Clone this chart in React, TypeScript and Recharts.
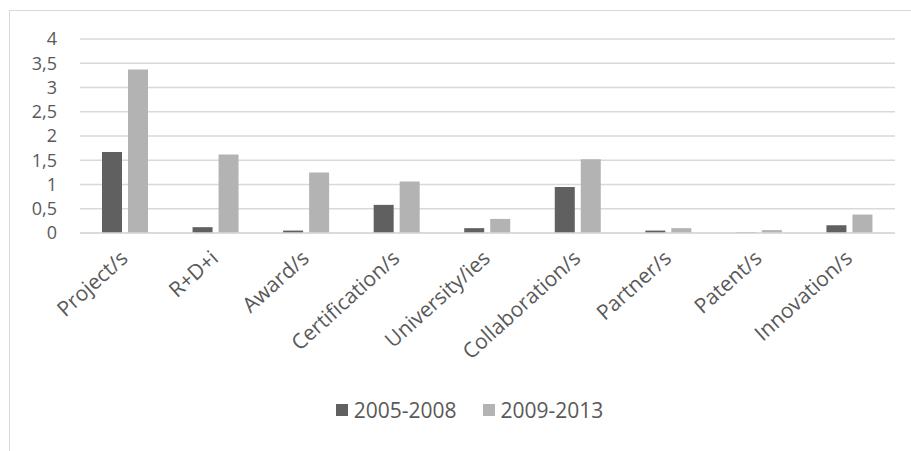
import React from "react"
import {
  BarChart,
  Bar,
  XAxis,
  YAxis,
  CartesianGrid,
  Legend,
} from "recharts"

const categories = [
  "Project/s",
  "R+D+i",
  "Award/s",
  "Certification/s",
  "University/ies",
  "Collaboration/s",
  "Partner/s",
  "Patent/s",
  "Innovation/s",
]
const period1 = [1.67, 0.12, 0.05, 0.58, 0.1, 0.95, 0.05, 0.01, 0.16]
const period2 = [3.37, 1.62, 1.25, 1.06, 0.29, 1.52, 0.1, 0.06, 0.38]
const yTicks = [0, 0.5, 1, 1.5, 2, 2.5, 3, 3.5, 4]

const SERIES = [
  { key: "p1", name: "2005-2008", color: "#606060" },
  { key: "p2", name: "2009-2013", color: "#b3b3b3" },
]

const FONT = "'Open Sans', 'Liberation Sans', sans-serif"
const TEXT = "#595959"

const data = categories.map((name, i) => ({
  name,
  p1: period1[i],
  p2: period2[i],
}))

function LegendBox() {
  return (
    <div
      style={{
        display: "flex",
        justifyContent: "center",
        alignItems: "center",
        paddingLeft: 18,
        fontFamily: FONT,
        fontSize: 21,
        color: TEXT,
      }}
    >
      {SERIES.map((s, i) => (
        <div
          key={s.key}
          style={{ display: "flex", alignItems: "center", marginLeft: i ? 26 : 0 }}
        >
          <span
            style={{ width: 12, height: 12, background: s.color, marginRight: 6 }}
          />
          <span>{s.name}</span>
        </div>
      ))}
    </div>
  )
}

export default function App() {
  return (
    <div>
      <style>{"body{margin:0;overflow:hidden}"}</style>
      <div
        style={{
          marginLeft: 9,
          marginTop: 10,
          width: 902,
          height: 441,
          borderTop: "1px solid #d9d9d9",
          borderLeft: "1px solid #d9d9d9",
          boxSizing: "border-box",
          background: "#fff",
        }}
      >
        <BarChart
          width={901}
          height={440}
          data={data}
          margin={{ top: 28, right: 16, bottom: 70, left: 0 }}
          barSize={20}
          barGap={6}
        >
          <CartesianGrid vertical={false} stroke="#d9d9d9" strokeWidth={1.5} />
          <XAxis
            dataKey="name"
            interval={0}
            axisLine={{ stroke: "#d9d9d9", strokeWidth: 1.5 }}
            tickLine={false}
            height={120}
            tickMargin={10}
            angle={-42}
            dx={-6}
            textAnchor="end"
            tick={{ fill: TEXT, fontSize: 21, fontFamily: FONT }}
          />
          <YAxis
            width={70}
            domain={[0, 4]}
            ticks={yTicks}
            interval={0}
            tickFormatter={(v: number) => String(v).replace(".", ",")}
            axisLine={false}
            tickLine={false}
            tickSize={0}
            tickMargin={23}
            tick={{ fill: TEXT, fontSize: 18, fontFamily: FONT }}
          />
          <Legend
            content={<LegendBox />}
            wrapperStyle={{ top: 385, left: 0, width: 901 }}
          />
          {SERIES.map((s) => (
            <Bar
              key={s.key}
              dataKey={s.key}
              name={s.name}
              fill={s.color}
              isAnimationActive={false}
            />
          ))}
        </BarChart>
      </div>
    </div>
  )
}
